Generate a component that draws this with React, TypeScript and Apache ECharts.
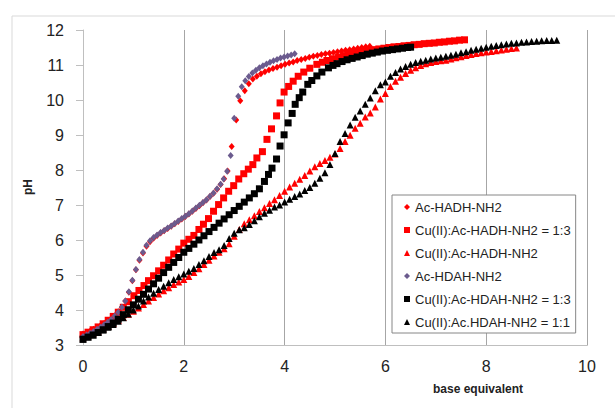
import React, { useEffect, useRef } from "react";
import * as echarts from "echarts";

// ---------- data (base equivalent, pH) ----------
const seriesNames = [
  "Ac-HADH-NH2",
  "Cu(II):Ac-HADH-NH2 = 1:3",
  "Cu(II):Ac-HADH-NH2",
  "Ac-HDAH-NH2",
  "Cu(II):Ac-HDAH-NH2 = 1:3",
  "Cu(II):Ac.HDAH-NH2 = 1:1",
];

const hadhX = [0.00,0.07,0.14,0.21,0.28,0.35,0.42,0.49,0.56,0.63,0.70,0.77,0.84,0.91,0.98,1.05,1.12,1.19,1.26,1.33,1.40,1.47,1.54,1.61,1.68,1.75,1.82,1.89,1.96,2.03,2.10,2.17,2.24,2.31,2.38,2.45,2.52,2.59,2.66,2.73,2.80,2.87,2.95,3.04,3.12,3.21,3.29,3.37,3.45,3.53,3.61,3.69,3.77,3.85,3.93,4.01,4.09,4.17,4.25,4.33,4.41,4.49,4.57,4.65,4.73,4.81,4.89,4.97,5.05,5.13,5.21,5.29,5.37,5.45,5.53,5.61,5.69];
const hadhY = [3.33,3.37,3.41,3.46,3.51,3.57,3.63,3.69,3.76,3.85,3.96,4.09,4.27,4.52,4.85,5.16,5.43,5.64,5.83,5.96,6.06,6.14,6.21,6.27,6.34,6.40,6.47,6.54,6.61,6.68,6.75,6.83,6.91,6.99,7.07,7.15,7.25,7.34,7.46,7.59,7.76,7.98,8.68,9.43,9.98,10.27,10.47,10.60,10.68,10.75,10.81,10.86,10.90,10.94,10.98,11.02,11.06,11.09,11.13,11.16,11.19,11.22,11.25,11.27,11.30,11.32,11.34,11.36,11.38,11.40,11.42,11.44,11.46,11.48,11.50,11.52,11.54];

const cuHadh13X = [0.00,0.10,0.20,0.30,0.40,0.50,0.60,0.70,0.80,0.90,1.01,1.11,1.21,1.30,1.40,1.50,1.60,1.70,1.80,1.90,2.00,2.10,2.20,2.30,2.39,2.49,2.59,2.69,2.79,2.89,2.99,3.09,3.19,3.28,3.37,3.45,3.56,3.65,3.74,3.84,3.91,3.99,4.08,4.17,4.27,4.38,4.50,4.64,4.75,4.84,4.95,5.07,5.17,5.27,5.37,5.47,5.57,5.67,5.77,5.87,5.97,6.07,6.17,6.27,6.37,6.47,6.57,6.67,6.77,6.87,6.97,7.07,7.17,7.27,7.37,7.47,7.57];
const cuHadh13Y = [3.31,3.38,3.45,3.53,3.62,3.72,3.83,3.95,4.09,4.25,4.42,4.57,4.71,4.85,4.99,5.13,5.29,5.44,5.61,5.75,5.92,6.03,6.14,6.31,6.46,6.62,6.83,7.02,7.21,7.40,7.56,7.75,7.90,8.03,8.16,8.35,8.53,8.88,9.18,9.55,9.92,10.23,10.39,10.54,10.68,10.80,10.91,11.02,11.08,11.13,11.18,11.23,11.27,11.31,11.34,11.37,11.40,11.42,11.44,11.46,11.48,11.50,11.52,11.53,11.55,11.56,11.58,11.59,11.61,11.62,11.63,11.65,11.66,11.68,11.69,11.71,11.72];

const cuHadhX = [0.0,0.1,0.2,0.3,0.4,0.5,0.6,0.7,0.8,0.9,1.0,1.1,1.2,1.3,1.4,1.5,1.6,1.7,1.8,1.9,2.0,2.1,2.2,2.3,2.4,2.5,2.6,2.7,2.8,2.9,3.0,3.1,3.2,3.3,3.4,3.5,3.6,3.7,3.8,3.9,4.0,4.1,4.2,4.3,4.4,4.5,4.6,4.7,4.8,4.9,5.0,5.1,5.2,5.3,5.4,5.5,5.6,5.7,5.8,5.9,6.0,6.1,6.2,6.3,6.4,6.5,6.6,6.7,6.8,6.9,7.0,7.1,7.2,7.3,7.4,7.5,7.6,7.7,7.8,7.9,8.0,8.1,8.2,8.3,8.4,8.5,8.6];
const cuHadhY = [3.22,3.28,3.34,3.41,3.48,3.55,3.63,3.71,3.80,3.89,3.98,4.07,4.17,4.27,4.37,4.47,4.56,4.65,4.74,4.81,4.88,4.97,5.08,5.19,5.31,5.43,5.55,5.66,5.76,5.90,6.12,6.31,6.47,6.59,6.70,6.82,6.93,7.05,7.16,7.28,7.40,7.52,7.63,7.74,7.85,7.98,8.10,8.19,8.28,8.37,8.46,8.62,8.82,9.00,9.20,9.34,9.52,9.63,9.80,10.03,10.19,10.39,10.54,10.65,10.76,10.85,10.92,10.99,11.04,11.07,11.10,11.12,11.14,11.17,11.21,11.24,11.27,11.30,11.33,11.35,11.37,11.39,11.41,11.43,11.45,11.47,11.49];

const hdahX = [0.00,0.07,0.14,0.21,0.28,0.35,0.42,0.49,0.56,0.63,0.70,0.77,0.84,0.91,0.98,1.05,1.12,1.19,1.26,1.33,1.40,1.47,1.54,1.61,1.68,1.75,1.82,1.89,1.96,2.03,2.10,2.17,2.24,2.31,2.38,2.45,2.52,2.59,2.66,2.73,2.79,2.86,2.93,3.00,3.08,3.15,3.22,3.29,3.36,3.43,3.50,3.57,3.64,3.71,3.78,3.85,3.92,3.99,4.06,4.13,4.20];
const hdahY = [3.26,3.30,3.35,3.40,3.46,3.52,3.59,3.66,3.74,3.84,3.95,4.09,4.27,4.53,4.86,5.17,5.45,5.66,5.86,5.99,6.08,6.15,6.22,6.28,6.35,6.41,6.48,6.55,6.62,6.69,6.76,6.84,6.92,7.00,7.08,7.16,7.26,7.35,7.47,7.60,7.75,7.97,8.42,9.48,10.11,10.38,10.55,10.67,10.77,10.85,10.92,10.98,11.03,11.08,11.12,11.16,11.20,11.23,11.26,11.29,11.32];

const cuHdah13X = [0.00,0.10,0.20,0.30,0.40,0.50,0.60,0.70,0.80,0.90,1.00,1.10,1.20,1.30,1.40,1.50,1.60,1.70,1.80,1.90,2.00,2.10,2.20,2.30,2.40,2.50,2.60,2.70,2.80,2.90,3.00,3.10,3.20,3.30,3.40,3.50,3.60,3.68,3.75,3.84,3.91,3.99,4.07,4.15,4.21,4.29,4.36,4.46,4.54,4.64,4.74,4.87,4.96,5.04,5.14,5.24,5.34,5.44,5.54,5.64,5.74,5.84,5.94,6.04,6.14,6.24,6.34,6.44,6.50];
const cuHdah13Y = [3.18,3.24,3.30,3.37,3.45,3.54,3.64,3.75,3.88,4.02,4.16,4.32,4.46,4.61,4.76,4.92,5.08,5.23,5.37,5.51,5.66,5.77,5.89,6.01,6.13,6.25,6.37,6.49,6.61,6.73,6.85,6.97,7.09,7.21,7.33,7.47,7.68,7.88,8.06,8.32,8.69,9.01,9.35,9.62,9.88,10.07,10.23,10.45,10.56,10.69,10.80,10.92,10.99,11.04,11.10,11.15,11.19,11.23,11.27,11.31,11.34,11.37,11.40,11.42,11.44,11.46,11.48,11.50,11.51];

const cuHdah11X = [0.0,0.1,0.2,0.3,0.4,0.5,0.6,0.7,0.8,0.9,1.0,1.1,1.2,1.3,1.4,1.5,1.6,1.7,1.8,1.9,2.0,2.1,2.2,2.3,2.4,2.5,2.6,2.7,2.8,2.9,3.0,3.1,3.2,3.3,3.4,3.5,3.6,3.7,3.8,3.9,4.0,4.1,4.2,4.3,4.4,4.5,4.6,4.7,4.8,4.9,5.0,5.1,5.2,5.3,5.4,5.5,5.6,5.7,5.8,5.9,6.0,6.1,6.2,6.3,6.4,6.5,6.6,6.7,6.8,6.9,7.0,7.1,7.2,7.3,7.4,7.5,7.6,7.7,7.8,7.9,8.0,8.1,8.2,8.3,8.4,8.5,8.6,8.7,8.8,8.9,9.0,9.1,9.2,9.3,9.4];
const cuHdah11Y = [3.18,3.24,3.30,3.37,3.44,3.52,3.60,3.69,3.79,3.90,4.01,4.13,4.27,4.38,4.49,4.60,4.69,4.79,4.88,4.96,5.04,5.12,5.20,5.31,5.42,5.54,5.65,5.73,5.85,6.05,6.20,6.30,6.36,6.45,6.56,6.67,6.77,6.86,6.95,7.01,7.09,7.17,7.25,7.32,7.42,7.51,7.63,7.77,7.93,8.16,8.48,8.82,9.05,9.29,9.51,9.69,9.88,10.06,10.27,10.44,10.52,10.68,10.79,10.89,10.96,11.02,11.07,11.11,11.14,11.17,11.20,11.22,11.25,11.28,11.31,11.35,11.38,11.42,11.45,11.48,11.51,11.54,11.56,11.58,11.60,11.62,11.63,11.65,11.66,11.67,11.68,11.69,11.70,11.70,11.71];

const xTicks = { min: 0, max: 10, interval: 2 };
const yTicks = { min: 3, max: 12, interval: 1 };

const zip = (xs: number[], ys: number[]) => xs.map((x, i) => [x, ys[i]]);

export default function App() {
  const ref = useRef<HTMLDivElement>(null);
  useEffect(() => {
    document.body.style.margin = "0";
    if (!ref.current) return;
    const chart = echarts.init(ref.current, null, { renderer: "svg" });
    const font = "'Liberation Sans', Arial, sans-serif";
    const purple = "#6B5B8E";
    const red = "#FF0000";
    const black = "#000000";
    const mk = (name: string, data: number[][], symbol: string, size: any, color: string) => ({
      name,
      type: "scatter",
      data,
      symbol,
      symbolSize: size,
      itemStyle: { color, opacity: 1 },
      emphasis: { disabled: true },
    });
    chart.setOption({
      animation: false,
      backgroundColor: "#ffffff",
      grid: { left: 83, right: 28, top: 30, bottom: 62.5, containLabel: false },
      xAxis: {
        type: "value",
        ...xTicks,
        axisLine: { show: true, lineStyle: { color: "#BFBFBF", width: 1 } },
        axisTick: { show: false },
        axisLabel: { fontSize: 16, color: "#222", fontFamily: font, margin: 13 },
        splitLine: { show: true, lineStyle: { color: "#A6A6A6", width: 1 } },
      },
      yAxis: {
        type: "value",
        ...yTicks,
        axisLine: { show: true, lineStyle: { color: "#BFBFBF", width: 1 } },
        axisTick: { show: true, inside: false, length: 7, lineStyle: { color: "#BFBFBF" } },
        axisLabel: { fontSize: 16, color: "#222", fontFamily: font, margin: 19 },
        splitLine: { show: false },
      },
      legend: {
        orient: "vertical",
        left: 392,
        top: 195,
        padding: [4, 5, 3, 12],
        itemGap: 7,
        itemWidth: 6,
        itemHeight: 6,
        borderColor: "#868686",
        borderWidth: 1,
        backgroundColor: "#ffffff",
        textStyle: { fontSize: 13, color: "#222", fontFamily: font, lineHeight: 16 },
        data: seriesNames,
      },
      graphic: [
        {
          type: "rect",
          silent: true,
          z: -10,
          shape: { x: 12, y: 16, width: 620, height: 420 },
          style: { fill: "none", stroke: "#D9D9D9", lineWidth: 1 },
        },
        {
          type: "text",
          x: 478,
          y: 389,
          style: {
            text: "base equivalent",
            font: `bold 12px ${font}`,
            fill: "#222",
            align: "center",
            verticalAlign: "middle",
          },
        },
        {
          type: "text",
          x: 28,
          y: 187,
          rotation: Math.PI / 2,
          style: {
            text: "pH",
            font: `bold 12px ${font}`,
            fill: "#222",
            align: "center",
            verticalAlign: "middle",
          },
        },
      ],
      series: [
        mk(seriesNames[0], zip(hadhX, hadhY), "diamond", [6, 7], red),
        mk(seriesNames[1], zip(cuHadh13X, cuHadh13Y), "rect", 7, red),
        mk(seriesNames[2], zip(cuHadhX, cuHadhY), "triangle", [7, 7], red),
        mk(seriesNames[3], zip(hdahX, hdahY), "diamond", [6, 7], purple),
        mk(seriesNames[4], zip(cuHdah13X, cuHdah13Y), "rect", 7, black),
        mk(seriesNames[5], zip(cuHdah11X, cuHdah11Y), "triangle", [7, 7], black),
      ],
    });
    return () => chart.dispose();
  }, []);
  return <div ref={ref} style={{ width: 615, height: 408 }} />;
}
